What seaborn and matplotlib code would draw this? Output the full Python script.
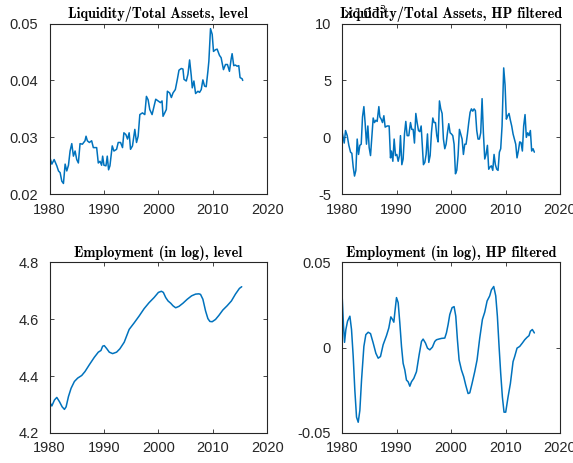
import numpy as np
import pandas as pd
import matplotlib
matplotlib.use("Agg")
import matplotlib.pyplot as plt
import seaborn as sns

# Liquidez / activos totales, nivel
liq_years = [1980.0, 1980.43, 1980.85, 1981.34, 1981.65, 1981.95, 1982.26, 1982.56, 1982.87, 1983.17,
             1983.48, 1983.78, 1984.09, 1984.39, 1984.70, 1985.0, 1985.30, 1985.61, 1986.04, 1986.52,
             1986.71, 1986.95, 1987.32, 1987.74, 1988.05, 1988.66, 1988.96, 1989.27, 1989.57, 1989.76,
             1990.0, 1990.37, 1990.61, 1990.85, 1991.1, 1991.52, 1991.83, 1992.32, 1992.62, 1993.05,
             1993.41, 1993.66, 1994.02, 1994.33, 1994.63, 1994.88, 1995.24, 1995.67, 1995.98, 1996.28,
             1996.59, 1997.07, 1997.5, 1997.8, 1998.11, 1998.41, 1998.84, 1999.21, 1999.51, 1999.94,
             2000.37, 2000.67, 2000.85, 2001.16, 2001.46, 2001.65, 2002.07, 2002.38, 2002.68, 2003.11,
             2003.48, 2003.78, 2004.21, 2004.51, 2004.70, 2005.12, 2005.43, 2005.73, 2006.04, 2006.22,
             2006.52, 2006.83, 2007.26, 2007.56, 2007.87, 2008.17, 2008.48, 2008.78, 2009.09, 2009.27,
             2009.57, 2009.88, 2010.12, 2010.49, 2010.79, 2011.22, 2011.52, 2011.95, 2012.32, 2012.68,
             2013.05, 2013.35, 2013.54, 2013.84, 2014.15, 2014.45, 2014.76, 2015.0, 2015.37, 2015.49]
liq_level = [0.0267, 0.0253, 0.0261, 0.0250, 0.0241, 0.0238, 0.0223, 0.0219, 0.0253, 0.0241,
             0.0251, 0.0276, 0.0289, 0.0267, 0.0276, 0.0261, 0.0255, 0.0289, 0.0288, 0.0294,
             0.0302, 0.0294, 0.0291, 0.0294, 0.0282, 0.0282, 0.0255, 0.0258, 0.0251, 0.0267,
             0.0251, 0.0250, 0.0267, 0.0243, 0.0250, 0.0285, 0.0276, 0.0279, 0.0291, 0.0291,
             0.0282, 0.0308, 0.0305, 0.0297, 0.0308, 0.0279, 0.0285, 0.0314, 0.0291, 0.0302,
             0.0340, 0.0343, 0.0340, 0.0372, 0.0366, 0.0349, 0.0340, 0.0355, 0.0367, 0.0364,
             0.0361, 0.0364, 0.0337, 0.0343, 0.0349, 0.0381, 0.0378, 0.0370, 0.0378, 0.0384,
             0.0402, 0.0418, 0.0421, 0.0420, 0.0402, 0.0399, 0.0411, 0.0436, 0.0408, 0.0387,
             0.0399, 0.0377, 0.0381, 0.0379, 0.0384, 0.0401, 0.0390, 0.0389, 0.0416, 0.0434,
             0.0491, 0.0481, 0.0451, 0.0454, 0.0455, 0.0444, 0.0440, 0.0419, 0.0428, 0.0428,
             0.0416, 0.0437, 0.0447, 0.0426, 0.0427, 0.0425, 0.0426, 0.0405, 0.0403, 0.0400]

# Liquidez / activos totales, filtro HP (x 1e-3)
liq_hp_years = [1980.0, 1980.18, 1980.37, 1980.61, 1980.92, 1981.22, 1981.53, 1981.77, 1982.02, 1982.26,
                1982.51, 1982.75, 1983.0, 1983.24, 1983.49, 1983.73, 1983.98, 1984.22, 1984.46, 1984.71,
                1984.95, 1985.2, 1985.44, 1985.69, 1985.93, 1986.18, 1986.42, 1986.73, 1986.91, 1987.16,
                1987.4, 1987.65, 1987.89, 1988.26, 1988.62, 1988.87, 1989.05, 1989.3, 1989.54, 1989.79,
                1990.03, 1990.28, 1990.52, 1990.7, 1990.95, 1991.19, 1991.44, 1991.68, 1991.93, 1992.23,
                1992.54, 1992.78, 1993.03, 1993.27, 1993.52, 1993.76, 1994.01, 1994.25, 1994.5, 1994.74,
                1994.92, 1995.17, 1995.41, 1995.66, 1995.9, 1996.15, 1996.39, 1996.64, 1996.88, 1997.13,
                1997.37, 1997.61, 1997.86, 1998.1, 1998.35, 1998.59, 1998.84, 1999.08, 1999.33, 1999.57,
                1999.82, 2000.06, 2000.31, 2000.55, 2000.8, 2001.04, 2001.28, 2001.53, 2001.77, 2002.02,
                2002.26, 2002.51, 2002.75, 2003.0, 2003.24, 2003.49, 2003.73, 2003.98, 2004.22, 2004.46,
                2004.71, 2004.95, 2005.2, 2005.44, 2005.69, 2005.93, 2006.18, 2006.42, 2006.67, 2006.91,
                2007.16, 2007.4, 2007.65, 2007.89, 2008.13, 2008.38, 2008.62, 2008.87, 2009.11, 2009.36,
                2009.66, 2009.91, 2010.15, 2010.4, 2010.64, 2010.89, 2011.13, 2011.38, 2011.62, 2011.87,
                2012.11, 2012.35, 2012.6, 2012.84, 2013.09, 2013.33, 2013.58, 2013.82, 2014.07, 2014.31,
                2014.56, 2014.8, 2015.05, 2015.29]
liq_hp = [0.44, 0.0, -0.5, 0.6, 0.15, -0.7, -1.3, -1.4, -2.6, -3.4,
          -2.9, -0.15, -1.5, -0.7, -0.6, 1.8, 2.7, 1.2, -0.6, 1.0,
          -0.9, -1.6, 0.0, 1.7, 1.3, 1.5, 1.4, 2.7, 1.8, 1.6,
          1.3, 1.9, 0.9, 1.0, 1.0, -1.8, -1.2, -2.1, -0.15, -1.6,
          -1.5, -2.1, -1.6, 0.15, -2.4, -1.9, 0.3, 1.4, 0.15, 0.15,
          1.3, 0.7, 0.7, -0.5, 2.1, 1.3, 0.6, 0.5, 1.0, -0.9,
          -2.4, -2.2, -1.5, 0.3, -2.2, -1.6, 0.4, 1.7, 1.3, 1.3,
          0.15, -0.4, 3.2, 2.5, 2.1, -0.15, -1.0, -0.6, 0.4, 1.2,
          0.4, 0.3, 0.15, -0.6, -3.2, -2.9, -1.6, 0.7, 0.3, -0.15,
          -1.5, -0.6, -0.6, 0.3, 1.3, 2.2, 2.5, 2.3, 2.5, 2.35,
          0.6, -0.15, -0.15, 0.4, 3.4, 0.4, -1.9, -1.5, -0.7, -2.8,
          -2.6, -2.5, -2.9, -1.5, -2.4, -2.8, -2.9, -1.3, -1.0, 1.0,
          6.1, 4.6, 1.6, 1.9, 2.1, 1.5, 1.0, 0.3, -0.15, -0.6,
          -1.8, -1.2, -0.4, -0.45, -1.2, 1.0, 2.0, 0.0, 0.4, 0.15,
          0.6, -1.2, -1.0, -1.3]

# Empleo (log), nivel
emp_years = [1980.0, 1980.43, 1980.91, 1981.34, 1981.83, 1982.32, 1982.74, 1983.05, 1983.48, 1983.96,
             1984.57, 1985.18, 1985.91, 1986.52, 1987.32, 1988.23, 1988.96, 1989.45, 1989.76, 1990.06,
             1990.49, 1990.98, 1991.59, 1992.32, 1992.93, 1993.72, 1994.63, 1995.55, 1996.46, 1997.38,
             1998.29, 1999.21, 2000.0, 2000.55, 2000.91, 2001.34, 2001.77, 2002.26, 2002.68, 2003.17,
             2003.78, 2004.51, 2005.3, 2006.1, 2006.83, 2007.44, 2007.74, 2008.17, 2008.66, 2009.09,
             2009.45, 2009.88, 2010.49, 2011.1, 2011.83, 2012.62, 2013.41, 2014.15, 2014.88, 2015.3]
emp_level = [4.310, 4.295, 4.316, 4.325, 4.310, 4.292, 4.283, 4.292, 4.328, 4.357,
             4.381, 4.393, 4.402, 4.416, 4.440, 4.466, 4.484, 4.490, 4.505, 4.507,
             4.497, 4.484, 4.479, 4.484, 4.496, 4.519, 4.564, 4.587, 4.611, 4.637,
             4.658, 4.676, 4.694, 4.698, 4.694, 4.676, 4.664, 4.656, 4.647, 4.640,
             4.645, 4.656, 4.670, 4.682, 4.688, 4.689, 4.687, 4.670, 4.629, 4.602,
             4.592, 4.591, 4.599, 4.613, 4.632, 4.647, 4.664, 4.688, 4.708, 4.714]

# Empleo (log), filtro HP
emp_hp_years = [1980.0, 1980.24, 1980.43, 1980.67, 1980.98, 1981.41, 1981.71, 1982.02, 1982.32, 1982.63,
                1982.94, 1983.24, 1983.55, 1983.98, 1984.34, 1984.77, 1985.2, 1985.69, 1986.18, 1986.61,
                1987.03, 1987.52, 1988.13, 1988.56, 1988.93, 1989.24, 1989.48, 1989.66, 1989.97, 1990.28,
                1990.58, 1990.89, 1991.19, 1991.5, 1991.8, 1992.11, 1992.42, 1992.72, 1993.15, 1993.64,
                1994.13, 1994.56, 1994.86, 1995.29, 1995.66, 1996.09, 1996.57, 1997.0, 1997.31, 1997.74,
                1998.23, 1998.84, 1999.14, 1999.45, 1999.76, 2000.18, 2000.55, 2000.86, 2001.16, 2001.47,
                2001.9, 2002.32, 2002.69, 2003.12, 2003.43, 2003.85, 2004.34, 2004.77, 2005.26, 2005.75,
                2006.18, 2006.61, 2007.09, 2007.4, 2007.83, 2008.2, 2008.5, 2008.81, 2009.11, 2009.42,
                2009.72, 2010.03, 2010.46, 2010.89, 2011.38, 2011.68, 2012.11, 2012.6, 2013.09, 2013.52,
                2013.94, 2014.31, 2014.56, 2014.92, 2015.29]
emp_hp = [0.0293, 0.0125, 0.0031, 0.0106, 0.0155, 0.0184, 0.0106, -0.0052, -0.0250, -0.0407,
          -0.0437, -0.0368, -0.0190, 0.0007, 0.0076, 0.0090, 0.0082, 0.0027, -0.0033, -0.0062,
          -0.0052, 0.0017, 0.0070, 0.0115, 0.0180, 0.0165, 0.0149, 0.0204, 0.0293, 0.0263,
          0.0145, 0.0007, -0.0092, -0.0131, -0.0190, -0.0200, -0.0226, -0.0200, -0.0180, -0.0141,
          -0.0042, 0.0036, 0.0050, 0.0027, -0.0003, -0.0013, 0.0003, 0.0036, 0.0046, 0.0050,
          0.0054, 0.0056, 0.0086, 0.0135, 0.0194, 0.0234, 0.0240, 0.0184, 0.0046, -0.0072,
          -0.0131, -0.0171, -0.0220, -0.0269, -0.0265, -0.0210, -0.0141, -0.0072, 0.0056, 0.0165,
          0.0208, 0.0273, 0.0303, 0.0338, 0.0358, 0.0303, 0.0184, 0.0007, -0.0151, -0.0289,
          -0.0378, -0.0378, -0.0289, -0.0210, -0.0082, -0.0052, -0.0003, 0.0007, 0.0027, 0.0046,
          0.0060, 0.0070, 0.0096, 0.0106, 0.0086]

titulos = ["Liquidity/Total Assets, level", "Liquidity/Total Assets, HP filtered",
           "Employment (in log), level", "Employment (in log), HP filtered"]
x_ticks = [1980, 1990, 2000, 2010, 2020]
y_ticks = [[0.02, 0.03, 0.04, 0.05], [-5, 0, 5, 10], [4.2, 4.4, 4.6, 4.8], [-0.05, 0, 0.05]]
y_tick_labels = [["0.02", "0.03", "0.04", "0.05"], ["-5", "0", "5", "10"],
                 ["4.2", "4.4", "4.6", "4.8"], ["-0.05", "0", "0.05"]]

# Estilo tipo MATLAB
sns.set_style("ticks")
gris = "#262626"
plt.rcParams['font.family'] = ['Liberation Sans', 'DejaVu Sans']
plt.rcParams['axes.unicode_minus'] = False
plt.rcParams['axes.edgecolor'] = gris
plt.rcParams['axes.linewidth'] = 0.8
plt.rcParams['xtick.color'] = gris
plt.rcParams['ytick.color'] = gris

fig, axes = plt.subplots(2, 2, figsize=(5.73, 4.63), dpi=100)
fig.subplots_adjust(left=0.0864, right=0.9773, bottom=0.0648, top=0.9492, wspace=0.344, hspace=0.398)

series = [(liq_years, liq_level), (liq_hp_years, liq_hp), (emp_years, emp_level), (emp_hp_years, emp_hp)]
for i, ax in enumerate(axes.flat):
    xs, ys = series[i]
    df = pd.DataFrame({"anio": xs, "valor": ys})
    sns.lineplot(data=df, x="anio", y="valor", ax=ax, color="#0072BD", linewidth=1.1)
    ax.set_xlim(1980, 2020)
    ax.set_ylim(y_ticks[i][0], y_ticks[i][-1])
    ax.set_xticks(x_ticks)
    ax.set_xticklabels([str(t) for t in x_ticks])
    ax.set_yticks(y_ticks[i])
    ax.set_yticklabels(y_tick_labels[i])
    ax.set_xlabel("")
    ax.set_ylabel("")
    ax.tick_params(direction="in", length=3, width=0.6, labelsize=10.5, top=True, right=True,
                   labelcolor=gris)
    ax.tick_params(axis="x", pad=6)
    ax.tick_params(axis="y", pad=8)
    for s in ax.spines.values():
        s.set_visible(True)
    ax.set_title(titulos[i], family=['cmb10', 'DejaVu Serif'], fontsize=10.3, pad=4, color="black")

# Exponente del eje y del panel HP de liquidez
axes[0, 1].text(0.0, 1.01, r"$\times10^{-3}$", transform=axes[0, 1].transAxes, ha="left", va="bottom",
                fontsize=10, color=gris, zorder=0)

plt.savefig("out.png", dpi=100)
plt.close()
